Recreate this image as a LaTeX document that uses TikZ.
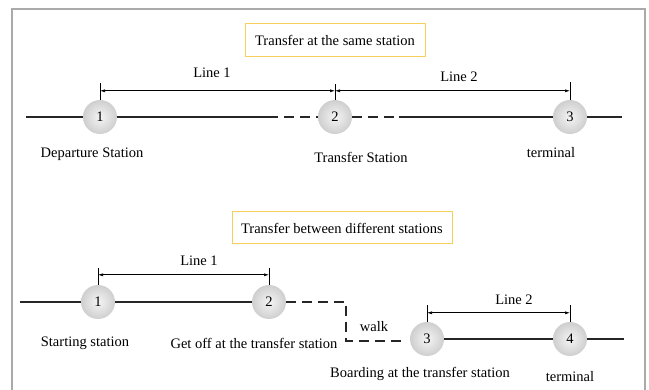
\documentclass[tikz,border=0pt]{standalone}
\usepackage{fontspec}
\setmainfont{Liberation Serif}
\usetikzlibrary{arrows.meta}
\definecolor{boxgold}{RGB}{247,208,92}
\definecolor{framegray}{RGB}{170,170,170}

\begin{document}
\begin{tikzpicture}[x=1pt, y=-1pt,
    every node/.style={font=\fontsize{14.5}{17}\selectfont},
    station/.style={circle, minimum size=34pt, inner sep=0pt, shading=radial,
      inner color=gray!8, outer color=gray!38},
    track/.style={line width=1.3pt, black!85},
    walkway/.style={line width=1.3pt, black!85, dash pattern=on 10pt off 6pt},
    dim/.style={line width=0.6pt, {Latex[length=5pt,width=3pt]}-{Latex[length=5pt,width=3pt]}},
    tick/.style={line width=0.6pt},
    titlebox/.style={draw=boxgold, line width=1pt, minimum height=33pt}]
    \useasboundingbox (0,0) rectangle (649,390);

    % 外枠
    \draw[framegray, line width=1.5pt] (12,390) -- (12,9) -- (645,9) -- (645,390);

    % 同じ駅での乗換
    \node[titlebox, minimum width=180pt] (title1) at (335,40) {Transfer at the same station};

    \node[station] (a1) at (100,117) {1};
    \node[station] (a2) at (335,117) {2};
    \node[station] (a3) at (570,117) {3};
    \coordinate (a0) at (26,117);
    \coordinate (aend) at (622,117);
    \coordinate (ad1) at (268,117);
    \coordinate (ad2) at (399,117);

    \draw[track] (a0) -- (a1) -- (ad1);
    \draw[walkway] (ad1) -- (a2) -- (ad2);
    \draw[track] (ad2) -- (a3) -- (aend);

    \draw[tick] (a1.north) -- ([yshift=17pt]a1.north);
    \draw[tick] (a2.north) -- ([yshift=16pt]a2.north);
    \draw[tick] (a3.north) -- ([yshift=18pt]a3.north);
    \draw[dim] ([yshift=9pt]a1.north) -- ([yshift=9pt]a2.north);
    \draw[dim] ([yshift=9pt]a2.north) -- ([yshift=9pt]a3.north);

    \node (aline1) at (212,73) {Line 1};
    \node (aline2) at (459,77) {Line 2};
    \node (alab1) at (92,154) {Departure Station};
    \node (alab2) at (361,157) {Transfer Station};
    \node (alab3) at (551,153) {terminal};

    % 別の駅での乗換
    \node[titlebox, minimum width=220pt, minimum height=32pt] (title2) at (342,228) {Transfer between different stations};

    \node[station] (b1) at (98,302) {1};
    \node[station] (b2) at (269,302) {2};
    \node[station] (b3) at (427,339) {3};
    \node[station] (b4) at (570,339) {4};
    \coordinate (b0) at (20,302);
    \coordinate (bend) at (624,339);
    \coordinate (bw1) at (346,302);
    \coordinate (bw2) at (346,341);
    \coordinate (bw3) at (402,341);

    \draw[track] (b0) -- (b1) -- (b2);
    \draw[walkway] (b2) -- (bw1) -- (bw2) -- (bw3);
    \draw[track] (b3) -- (b4) -- (bend);

    \draw[tick] (b1.north) -- ([yshift=17pt]b1.north);
    \draw[tick] (b2.north) -- ([yshift=17pt]b2.north);
    \draw[tick] (b3.north) -- ([yshift=17pt]b3.north);
    \draw[tick] (b4.north) -- ([yshift=17pt]b4.north);
    \draw[dim] ([yshift=10pt]b1.north) -- ([yshift=10pt]b2.north);
    \draw[dim] ([yshift=9pt]b3.north) -- ([yshift=9pt]b4.north);

    \node (bline1) at (199,261) {Line 1};
    \node (bline2) at (514,300) {Line 2};
    \node (bwalk) at (374,327) {walk};
    \node (blab1) at (85,343) {Starting station};
    \node (blab2) at (254,343) {Get off at the transfer station};
    \node (blab3) at (420,374) {Boarding at the transfer station};
    \node (blab4) at (570,377) {terminal};
\end{tikzpicture}
\end{document}
